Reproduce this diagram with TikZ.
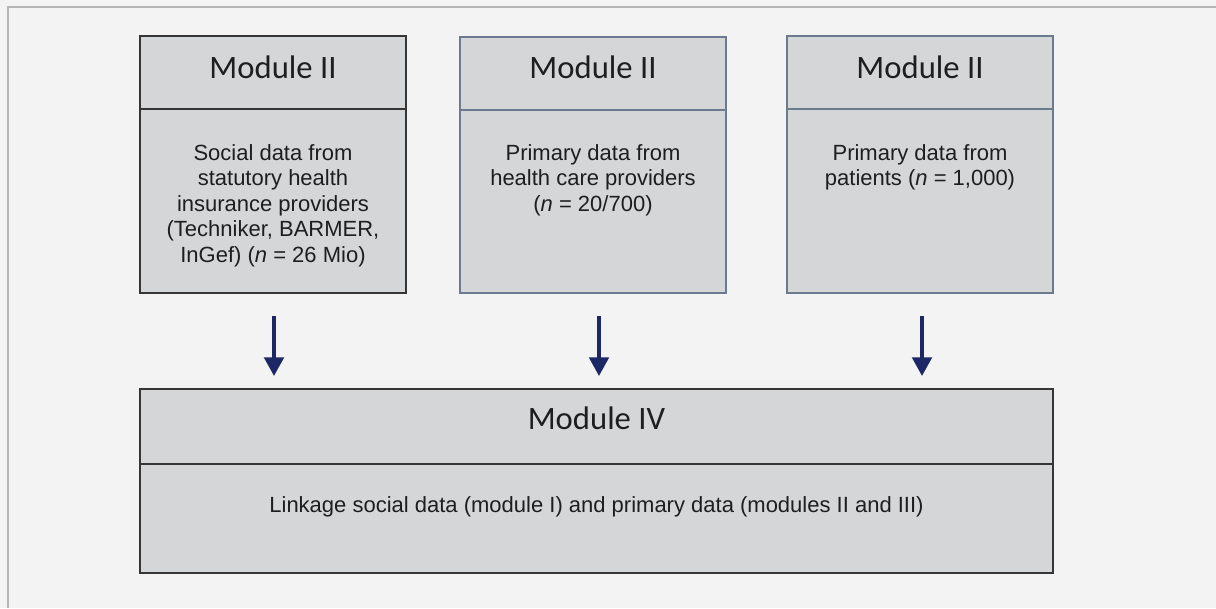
\documentclass[tikz,border=0pt]{standalone}
\usepackage{fontspec}
\setmainfont{Liberation Sans}
\newfontfamily\titlefont{Carlito}
\usetikzlibrary{arrows.meta,calc}
\definecolor{bg}{HTML}{F3F3F3}
\definecolor{framec}{HTML}{B5B5B5}
\definecolor{boxfill}{HTML}{D5D6D8}
\definecolor{darkedge}{HTML}{353535}
\definecolor{blueedge}{HTML}{6B7A8E}
\definecolor{navy}{HTML}{1C2765}
\definecolor{txt}{HTML}{1E1E1E}
\begin{document}
\begin{tikzpicture}[x=0.75pt,y=-0.75pt,
  cell/.style={draw, fill=boxfill, line width=1.5pt, inner sep=0pt, outer sep=0pt, anchor=north west},
  smallcell/.style={cell, minimum width=199.5pt},
  titletext/.style={font=\titlefont\fontsize{24.5}{29}\selectfont, text=txt, anchor=base, inner sep=0pt},
  bodytext/.style={font=\fontsize{16.5}{19.1}\selectfont, text=txt, align=center, anchor=north, inner sep=0pt},
  flow/.style={navy, line width=3pt, -{Triangle[width=14.5pt,length=14pt]}, shorten <=17.25pt, shorten >=9.75pt}]
\useasboundingbox (0,0) rectangle (1216,608);
\fill[bg] (0,0) rectangle (1216,608);
\draw[framec, line width=1.5pt] (8,608) -- (8,7) -- (1216,7);

% Box 1
\node[smallcell, draw=darkedge, minimum height=54.75pt] (t1) at (140,36) {};
\node[smallcell, draw=darkedge, minimum height=138pt] (b1) at (140,109) {};
% Box 2
\node[smallcell, draw=blueedge, minimum height=54.75pt] (t2) at (460,37) {};
\node[smallcell, draw=blueedge, minimum height=137.25pt] (b2) at (460,110) {};
% Box 3
\node[smallcell, draw=blueedge, minimum height=54.75pt] (t3) at (787,36) {};
\node[smallcell, draw=blueedge, minimum height=138pt] (b3) at (787,109) {};
% Box 4
\node[cell, draw=darkedge, minimum width=684.75pt, minimum height=56.25pt] (t4) at (140,389) {};
\node[cell, draw=darkedge, minimum width=684.75pt, minimum height=81.75pt] (b4) at (140,464) {};

% Titles
\node[titletext] (l1) at (273,78.5) {Module II};
\node[titletext] (l2) at (593,78.5) {Module II};
\node[titletext] (l3) at (920,78.5) {Module II};
\node[titletext] (l4) at (596.5,429.5) {Module IV};

% Body texts
\node[bodytext] (x1) at (273,144) {Social data from\\statutory health\\insurance providers\\(Techniker, BARMER,\\InGef) (\textit{n} = 26 Mio)};
\node[bodytext] (x2) at (593,144) {Primary data from\\health care providers\\(\textit{n} = 20/700)};
\node[bodytext] (x3) at (920,144) {Primary data from\\patients (\textit{n} = 1,000)};
\node[bodytext, anchor=base] (x4) at (596.5,512) {Linkage social data (module I) and primary data (modules II and III)};

% Arrows
\draw[flow] ([xshift=0.75pt]b1.south) -- ([xshift=0.75pt]b1.south |- t4.north);
\draw[flow] ([xshift=4.5pt]b2.south) -- ([xshift=4.5pt]b2.south |- t4.north);
\draw[flow] ([xshift=1.5pt]b3.south) -- ([xshift=1.5pt]b3.south |- t4.north);
\end{tikzpicture}
\end{document}
